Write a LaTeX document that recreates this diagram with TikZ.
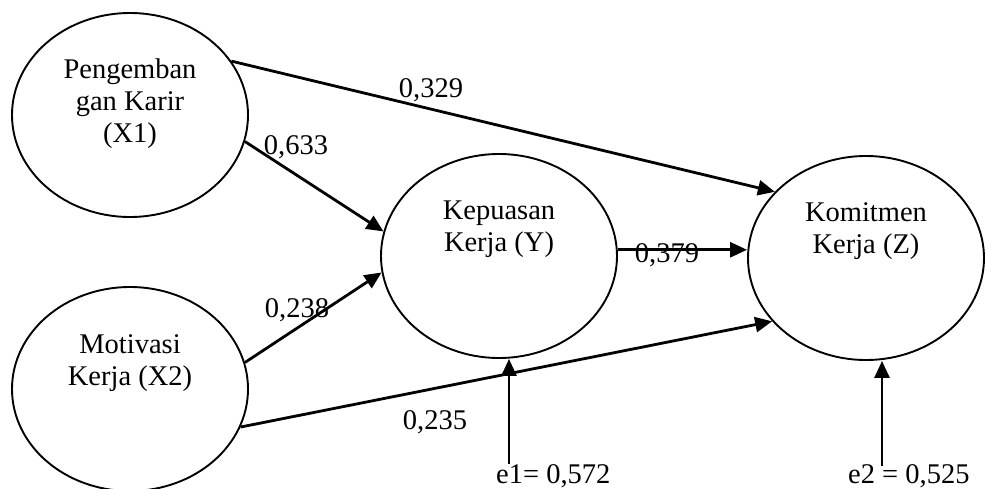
\documentclass[tikz,border=0pt]{standalone}
\usepackage{fontspec}
\setmainfont{Liberation Serif}
\usetikzlibrary{arrows.meta,shapes.geometric}

\begin{document}
\begin{tikzpicture}[x=1pt, y=-1pt, font=\fontsize{28.5}{32}\selectfont]
\tikzstyle{var}=[ellipse, draw, line width=1.9pt, minimum width=236pt, minimum height=204pt, inner sep=0pt]
\tikzstyle{txt}=[align=center, inner sep=0pt]
\tikzstyle{coef}=[anchor=base, inner sep=0pt]
\tikzstyle{link}=[line width=2.8pt, -{Triangle[length=17pt, width=15pt]}]
\useasboundingbox (0,0) rectangle (986,488);
\node[var] (x1) at (130,115) {};
\node[var] (x2) at (130,389) {};
\node[var] (y) at (499,256) {};
\node[var] (z) at (866,258) {};
\node[txt] (x1t) at ([yshift=11pt]x1.center) {Pengemban\\gan Karir\\(X1)};
\node[txt] (x2t) at ([yshift=26pt]x2.center) {Motivasi\\Kerja (X2)};
\node[txt] (yt) at ([yshift=27pt]y.center) {Kepuasan\\Kerja (Y)};
\node[txt] (zt) at ([yshift=27pt]z.center) {Komitmen\\Kerja (Z)};
\node[coef] (b1) at (431,97) {0,329};
\node[coef] (b2) at (296,154) {0,633};
\node[coef] (b3) at (297,317) {0,238};
\node[coef] (b4) at (435,429) {0,235};
\node[coef] (b5) at (667,262) {0,379};
\node[coef, anchor=base west] (e1t) at (496,483) {e1= 0,572};
\node[coef, anchor=base west] (e2t) at (848,483) {e2 = 0,525};
\coordinate (e1) at (509,464);
\coordinate (e2) at (882,466);
\draw[link] (x1.28) -- (z.144);
\draw[link] (x1.347) -- (y.168);
\draw[link] (x2.13) -- (y.188);
\draw[link] (x2.341) -- (z.214);
\draw[link] (y.3) -- (y.3 -| z.west);
\draw[link] (e1) -- (e1 |- y.south);
\draw[link] (e2) -- (e2 |- z.south);
\end{tikzpicture}
\end{document}
